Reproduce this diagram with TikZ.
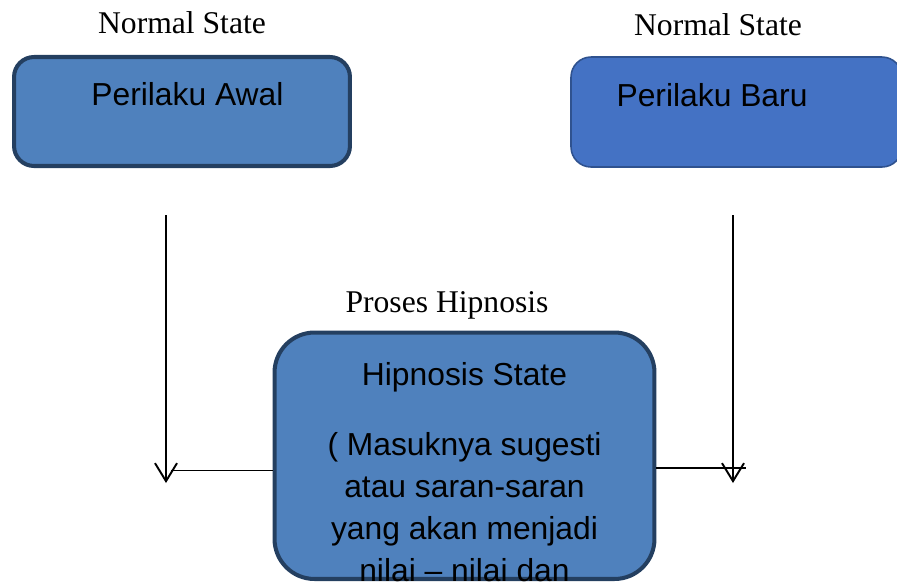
\documentclass[tikz,border=0pt]{standalone}
\usepackage{fontspec}
\setmainfont{Liberation Serif}
\setsansfont{Liberation Sans}
\usetikzlibrary{arrows.meta,calc}

\definecolor{oldfill}{HTML}{4F81BD}
\definecolor{oldline}{HTML}{243F60}
\definecolor{newfill}{HTML}{4472C4}
\definecolor{newline}{HTML}{2F528F}

\begin{document}
\begin{tikzpicture}[x=0.02cm, y=-0.02cm, >={Straight Barb[length=0.36cm, width=0.44cm]},
	every node/.style={inner sep=0pt},
	statelbl/.style={font=\fontsize{18}{22}\selectfont\rmfamily, anchor=base},
	oldbox/.style={draw=oldline, fill=oldfill, line width=2.3pt, rounded corners=0.4cm},
	newbox/.style={draw=newline, fill=newfill, line width=0.9pt, rounded corners=0.4cm},
	boxtext/.style={font=\fontsize{18.1}{23.8}\selectfont\sffamily},
	flow/.style={->, line width=1.1pt},
	link/.style={line width=0.85pt}]

	\clip (0,0) rectangle (897,583);

	% the two arrows and the links to the middle box
	\coordinate (awalTop) at (166,215);
	\coordinate (awalEnd) at (166,483);
	\coordinate (baruTop) at (733,215);
	\coordinate (baruEnd) at (733,483);
	\coordinate (joinL) at (171,470.5);
	\coordinate (joinR) at (746,468);

	\draw [flow] (awalTop) -- (awalEnd);
	\draw [flow] (baruTop) -- (baruEnd);

	\node [oldbox, rounded corners=0.8cm, minimum width=7.6cm, minimum height=4.93cm] (hipno) at (464.5,455.75) {};
	\draw [link] (joinL) -- (joinL -| hipno.west);
	\draw [link] (hipno.east |- joinR) -- (joinR);

	\node [oldbox, minimum width=6.72cm, minimum height=2.18cm] (awal) at (182,111.5) {};
	\node [newbox, minimum width=6.62cm, minimum height=2.2cm] (baru) at (736.5,112) {};

	\node [boxtext, anchor=base west] (awalTxt) at ($(awal.north west)+(79,50)$) {Perilaku Awal};
	\node [boxtext, anchor=base west] (baruTxt) at ($(baru.north west)+(46,50)$) {Perilaku Baru};
	\node [boxtext, anchor=north, align=center] (hipnoTxt) at ($(hipno.north)+(0,32)$)
		{Hipnosis State\\[0.56cm]( Masuknya sugesti\\atau saran-saran\\yang akan menjadi\\nilai -- nilai dan};

	\node [statelbl] (normAwal) at ($(awal.north)+(0,-21)$) {Normal State};
	\node [statelbl] (normBaru) at ($(baru.north)+(-18.5,-21)$) {Normal State};
	\node [statelbl] (proses) at ($(hipno.north)+(-17.5,-18.5)$) {Proses Hipnosis};

\end{tikzpicture}
\end{document}
